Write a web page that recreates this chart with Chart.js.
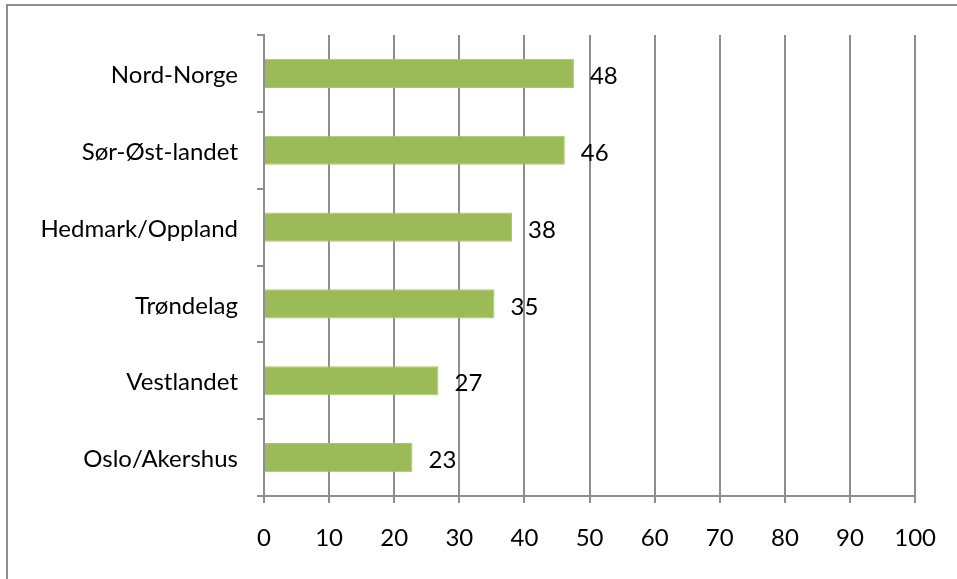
<!DOCTYPE html>
<html>
<head>
<meta charset="utf-8">
<script src="https://cdn.jsdelivr.net/npm/chart.js@4/dist/chart.umd.min.js"></script>
<style>
  html, body { margin: 0; padding: 0; background: #fff; }
  canvas { display: block; }
</style>
</head>
<body>
<canvas id="chart" width="957" height="579"></canvas>
<script>
const regions = ["Nord-Norge", "Sør-Øst-landet", "Hedmark/Oppland", "Trøndelag", "Vestlandet", "Oslo/Akershus"];
const shares = [47.6, 46.2, 38.1, 35.4, 26.8, 22.8];
const xTicks = [0, 10, 20, 30, 40, 50, 60, 70, 80, 90, 100];

const gridGrey = "#8e8e8e";
const fontSpec = { family: "Lato, 'Liberation Sans', sans-serif", size: 24 };

// grey frame of the chart object (right and bottom fall outside the picture)
const framePlugin = {
  id: "frame",
  beforeDraw(chart) {
    const ctx = chart.ctx;
    ctx.save();
    ctx.strokeStyle = gridGrey;
    ctx.lineWidth = 2;
    ctx.strokeRect(7, 5, 1000, 700);
    ctx.restore();
  }
};

// value labels to the right of each bar
const valueLabels = {
  id: "valueLabels",
  afterDatasetsDraw(chart) {
    const ctx = chart.ctx;
    const meta = chart.getDatasetMeta(0);
    ctx.save();
    ctx.fillStyle = "#000";
    ctx.font = fontSpec.size + "px " + fontSpec.family;
    ctx.textAlign = "left";
    ctx.textBaseline = "middle";
    meta.data.forEach((bar, i) => {
      ctx.fillText(String(Math.round(shares[i])), bar.x + 16, bar.y + 3);
    });
    ctx.restore();
  }
};

new Chart(document.getElementById("chart"), {
  type: "bar",
  data: {
    labels: regions,
    datasets: [{
      data: shares,
      backgroundColor: "#9bbb59",
      borderColor: "#a9c66b",
      borderWidth: 1,
      categoryPercentage: 1,
      barPercentage: 0.38
    }]
  },
  options: {
    indexAxis: "y",
    responsive: false,
    animation: false,
    layout: { padding: { top: 35, right: 40, left: 0, bottom: 0 } },
    plugins: {
      legend: { display: false },
      tooltip: { enabled: false }
    },
    scales: {
      x: {
        min: 0,
        max: 100,
        afterBuildTicks: (scale) => { scale.ticks = xTicks.map(v => ({ value: v })); },
        afterFit: (scale) => { scale.height = 83; },
        grid: { color: gridGrey, lineWidth: 2, tickLength: 7 },
        border: { color: gridGrey, width: 2 },
        ticks: { color: "#000", font: fontSpec, padding: 21 }
      },
      y: {
        afterFit: (scale) => { scale.width = 264; },
        grid: { drawOnChartArea: false, offset: true, color: gridGrey, lineWidth: 2, tickLength: 7 },
        border: { color: gridGrey, width: 2 },
        ticks: { color: "#000", font: fontSpec, padding: 19, labelOffset: 2 }
      }
    }
  },
  plugins: [framePlugin, valueLabels]
});
</script>
</body>
</html>
